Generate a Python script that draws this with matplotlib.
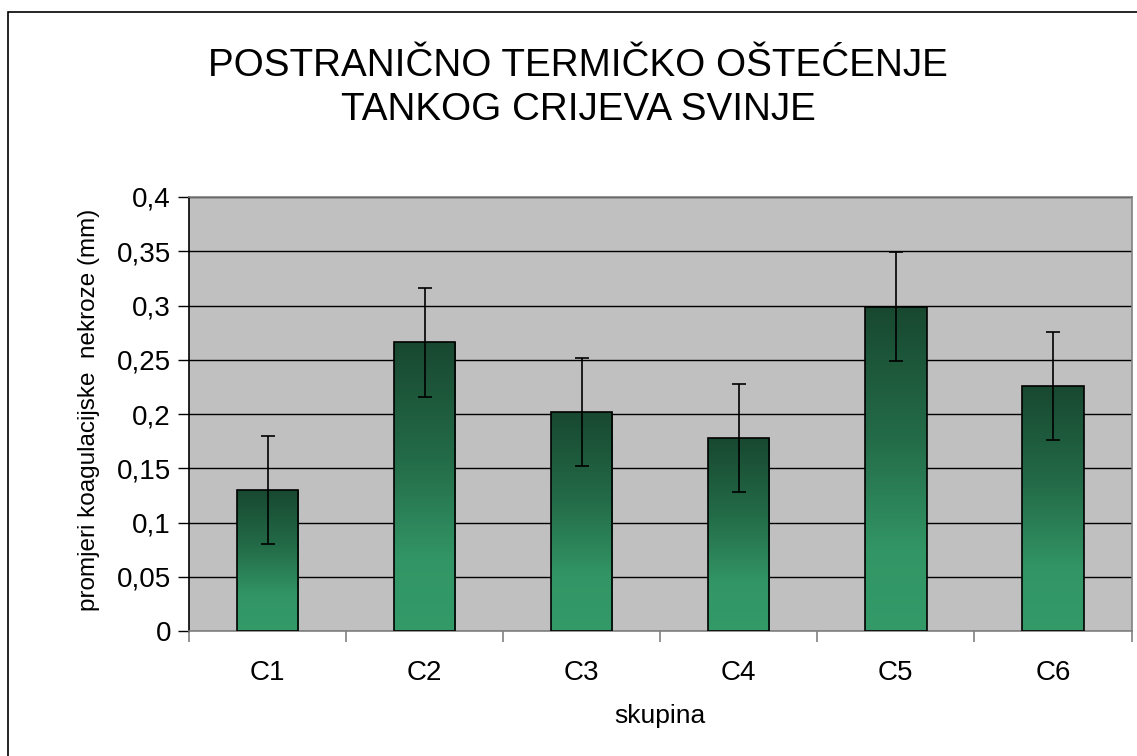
import numpy as np
import matplotlib.pyplot as plt
from matplotlib.colors import LinearSegmentedColormap
from matplotlib.patches import Rectangle

plt.rcParams['font.family'] = ['Liberation Sans', 'DejaVu Sans']

# data
groups = ['C1', 'C2', 'C3', 'C4', 'C5', 'C6']
means = [0.130, 0.266, 0.202, 0.178, 0.299, 0.226]
errors = [0.05, 0.05, 0.05, 0.05, 0.05, 0.05]
y_ticks = [0, 0.05, 0.1, 0.15, 0.2, 0.25, 0.3, 0.35, 0.4]
y_tick_labels = ['0', '0,05', '0,1', '0,15', '0,2', '0,25', '0,3', '0,35', '0,4']

W, H = 1137, 756
fig = plt.figure(figsize=(W / 100, H / 100), dpi=100)
fig.patch.set_facecolor('white')

# outer chart border (cut off at right and bottom like the original)
fig.patches.append(Rectangle((8 / W, -0.05), 1.2, (H - 12) / H + 0.05,
                             transform=fig.transFigure, fill=False,
                             edgecolor='black', linewidth=1.2))

ax = fig.add_axes([189 / W, 1 - 631 / H, (1131.5 - 189) / W, (631 - 197) / H])
ax.set_facecolor('#c0c0c0')

x = np.arange(len(groups))
bars = ax.bar(x, means, width=0.39, color='none', edgecolor='black',
              linewidth=1.2, zorder=3)

# vertical green gradient inside each bar
cmap = LinearSegmentedColormap.from_list(
    'grn', [(0, '#339a68'), (0.25, '#329565'), (0.6, '#236b48'), (1, '#184830')])
grad = np.linspace(0, 1, 256).reshape(-1, 1)
for b in bars:
    x0, w, h = b.get_x(), b.get_width(), b.get_height()
    im = ax.imshow(grad, cmap=cmap, origin='lower', aspect='auto',
                   extent=[x0, x0 + w, 0, h], zorder=2)
    im.set_clip_path(b)

ax.errorbar(x, means, yerr=errors, fmt='none', ecolor='black',
            elinewidth=1.2, capsize=5, capthick=1.2, zorder=4)

ax.set_xlim(-0.5, len(groups) - 0.5)
ax.set_ylim(0, 0.4)
ax.set_yticks(y_ticks)
ax.set_yticklabels(y_tick_labels, fontsize=20)
ax.yaxis.grid(True, color='black', linewidth=1)
ax.set_axisbelow(True)

ax.set_xticks(x)
ax.set_xticklabels(groups, fontsize=20)
ax.set_xticks(np.arange(-0.5, len(groups)), minor=True)
ax.tick_params(axis='x', which='major', length=0, pad=21)
ax.tick_params(axis='x', which='minor', length=8, width=1.2, color='#808080')
ax.tick_params(axis='y', length=8, width=1, color='black', pad=5)

for side in ['top', 'right', 'bottom']:
    ax.spines[side].set_color('#808080')
    ax.spines[side].set_linewidth(1.2)
ax.spines['left'].set_color('black')
ax.spines['left'].set_linewidth(1.2)

ax.set_xlabel('skupina', fontsize=19, labelpad=13)
ax.set_ylabel('promjeri koagulacijske  nekroze (mm)', fontsize=17.5)
ax.yaxis.set_label_coords(-0.094, 0.51)

fig.text(578 / W, 1 - 88 / H, 'POSTRANIČNO TERMIČKO OŠTEĆENJE\nTANKOG CRIJEVA SVINJE',
         ha='center', va='center', fontsize=27.8, linespacing=1.25)

fig.savefig('out.png', dpi=100)
